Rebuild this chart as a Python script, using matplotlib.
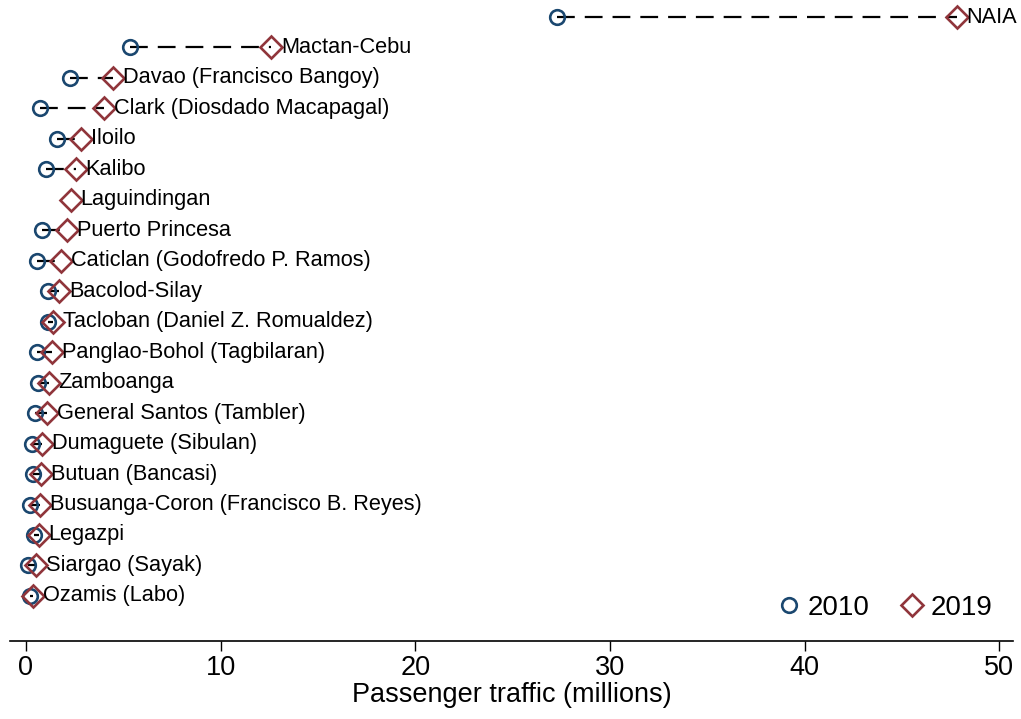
import numpy as np
import matplotlib
matplotlib.use("Agg")
import matplotlib.pyplot as plt
from matplotlib.lines import Line2D

airports = ["NAIA", "Mactan-Cebu", "Davao (Francisco Bangoy)", "Clark (Diosdado Macapagal)",
            "Iloilo", "Kalibo", "Laguindingan", "Puerto Princesa",
            "Caticlan (Godofredo P. Ramos)", "Bacolod-Silay", "Tacloban (Daniel Z. Romualdez)",
            "Panglao-Bohol (Tagbilaran)", "Zamboanga", "General Santos (Tambler)",
            "Dumaguete (Sibulan)", "Butuan (Bancasi)", "Busuanga-Coron (Francisco B. Reyes)",
            "Legazpi", "Siargao (Sayak)", "Ozamis (Labo)"]
traffic_2010 = [27.3, 5.35, 2.26, 0.72, 1.6, 1.03, np.nan, 0.82, 0.57, 1.13, 1.13,
                0.57, 0.62, 0.46, 0.31, 0.36, 0.2, 0.41, 0.1, 0.2]
traffic_2019 = [47.8, 12.6, 4.47, 4.0, 2.83, 2.57, 2.31, 2.1, 1.8, 1.7, 1.39,
                1.34, 1.18, 1.08, 0.82, 0.77, 0.72, 0.67, 0.51, 0.36]
xticks = [0, 10, 20, 30, 40, 50]

navy = "#1a476f"
maroon = "#90353b"

plt.rcParams['font.family'] = ['Liberation Sans', 'DejaVu Sans']

fig = plt.figure(figsize=(10.21, 7.19), dpi=100)
ax = fig.add_axes([10/1021, 78/719, 1003/1021, 641/719])

ypos = np.arange(len(airports))
for y, a, b in zip(ypos, traffic_2010, traffic_2019):
    if not np.isnan(a):
        ax.plot([a, b], [y, y], color="black", lw=1.6, dashes=(8, 4.5), zorder=1)

ax.plot(traffic_2010, ypos, linestyle="none", marker="o", markersize=10.5,
        markerfacecolor="none", markeredgecolor=navy, markeredgewidth=1.9, zorder=3)
ax.plot(traffic_2019, ypos, linestyle="none", marker="D", markersize=11.5,
        markerfacecolor="none", markeredgecolor=maroon, markeredgewidth=1.9, zorder=3)

for y, b, name in zip(ypos, traffic_2019, airports):
    ax.annotate(name, xy=(b, y), xytext=(7, 0), textcoords="offset points",
                ha="left", va="center", fontsize=15.7)

ax.set_xlim(-0.82, 50.7)
ax.set_ylim(20.48, -0.558)
ax.set_xticks(xticks)
ax.tick_params(axis="x", labelsize=19.5, length=7, width=1, direction="out", pad=3)
ax.set_yticks([])
for s in ["top", "right", "left"]:
    ax.spines[s].set_visible(False)
ax.spines["bottom"].set_linewidth(1.2)
ax.set_xlabel("Passenger traffic (millions)", fontsize=19.5, labelpad=1)

handles = [Line2D([], [], linestyle="none", marker="o", markersize=10.5,
                  markerfacecolor="none", markeredgecolor=navy, markeredgewidth=1.9),
           Line2D([], [], linestyle="none", marker="D", markersize=11.5,
                  markerfacecolor="none", markeredgecolor=maroon, markeredgewidth=1.9)]
ax.legend(handles, ["2010", "2019"], ncol=2, frameon=False, fontsize=20,
          loc="center right", bbox_to_anchor=(1.004, 0.052),
          handletextpad=0.15, columnspacing=1.05, handlelength=1.0)

fig.savefig("out.png", dpi=100)
